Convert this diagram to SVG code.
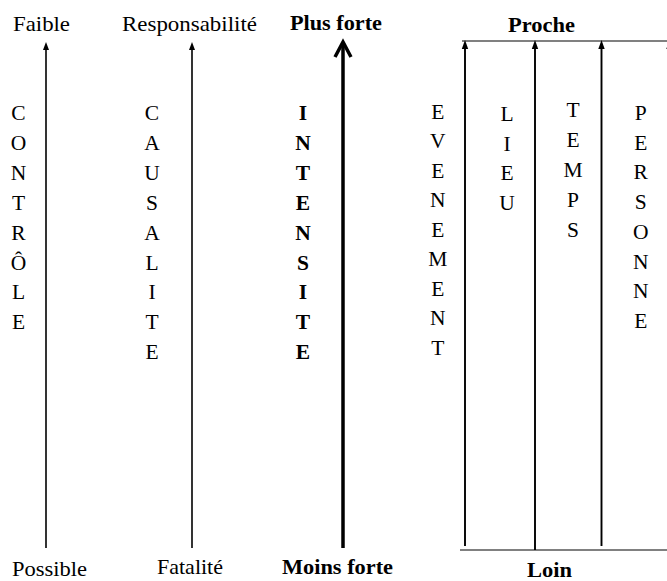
<svg xmlns="http://www.w3.org/2000/svg" width="667" height="581" viewBox="0 0 667 581">
<style>
text { font-family: "Liberation Serif", "Times New Roman", serif; font-size: 21.5px; fill: #000; }
.b { font-weight: bold; }
.col { text-anchor: middle; }
.ax { stroke: #000; stroke-width: 1.6; fill: none; }
.axr { stroke: #000; stroke-width: 1.9; fill: none; }
.thick { stroke: #000; stroke-width: 3.5; fill: none; }
.rule { stroke: #808080; stroke-width: 1.8; fill: none; }
.head { fill: #000; stroke: none; }
</style>
<rect width="667" height="581" fill="#fff"/>

<g id="connectors">
  <line class="ax" x1="46" y1="548" x2="46" y2="48"/>
  <polygon class="head" points="46,42 49,50 43,50"/>
  <line class="ax" x1="192" y1="548" x2="192" y2="48"/>
  <polygon class="head" points="192,42 195,50 189,50"/>
  <line class="thick" x1="343" y1="548" x2="343" y2="43"/>
  <polyline class="thick" points="335,57 343,42 351,57" stroke-linejoin="miter"/>
  <line class="rule" x1="462" y1="41" x2="667" y2="41"/>
  <line class="rule" x1="460" y1="550" x2="667" y2="550"/>
  <line class="axr" x1="465" y1="546" x2="465" y2="47"/>
  <polygon class="head" points="465,40 468.2,49 461.8,49"/>
  <line class="axr" x1="535" y1="550" x2="535" y2="47"/>
  <polygon class="head" points="535,40 538.2,49 531.8,49"/>
  <line class="axr" x1="601.5" y1="546" x2="601.5" y2="47"/>
  <polygon class="head" points="601.5,40 604.7,49 598.3,49"/>
  <polygon class="head" points="669.5,40 672.7,49 666.3,49"/>
</g>

<g id="controle">
  <text x="13" y="31" textLength="57" lengthAdjust="spacingAndGlyphs">Faible</text>
  <text x="12" y="576" textLength="75" lengthAdjust="spacingAndGlyphs">Possible</text>
  <text class="col">
    <tspan x="18.5" y="120">C</tspan><tspan x="18.5" y="149.9">O</tspan><tspan x="18.5" y="179.8">N</tspan><tspan x="18.5" y="209.7">T</tspan><tspan x="18.5" y="239.6">R</tspan><tspan x="18.5" y="269.5">Ô</tspan><tspan x="18.5" y="299.4">L</tspan><tspan x="18.5" y="329.3">E</tspan>
  </text>
</g>

<g id="causalite">
  <text x="122" y="31" textLength="135" lengthAdjust="spacingAndGlyphs">Responsabilité</text>
  <text x="157" y="574" textLength="66" lengthAdjust="spacingAndGlyphs">Fatalité</text>
  <text class="col">
    <tspan x="152" y="120">C</tspan><tspan x="152" y="149.9">A</tspan><tspan x="152" y="179.8">U</tspan><tspan x="152" y="209.7">S</tspan><tspan x="152" y="239.6">A</tspan><tspan x="152" y="269.5">L</tspan><tspan x="152" y="299.4">I</tspan><tspan x="152" y="329.3">T</tspan><tspan x="152" y="359.2">E</tspan>
  </text>
</g>

<g id="intensite">
  <text class="b" x="290" y="30" textLength="92" lengthAdjust="spacingAndGlyphs">Plus forte</text>
  <text class="b" x="282" y="574" textLength="111" lengthAdjust="spacingAndGlyphs">Moins forte</text>
  <text class="col b">
    <tspan x="303" y="120">I</tspan><tspan x="303" y="149.9">N</tspan><tspan x="303" y="179.8">T</tspan><tspan x="303" y="209.7">E</tspan><tspan x="303" y="239.6">N</tspan><tspan x="303" y="269.5">S</tspan><tspan x="303" y="299.4">I</tspan><tspan x="303" y="329.3">T</tspan><tspan x="303" y="359.2">E</tspan>
  </text>
</g>

<g id="proximite">
  <text class="b" x="508" y="32" textLength="67" lengthAdjust="spacingAndGlyphs">Proche</text>
  <text class="b" x="527" y="577" textLength="45" lengthAdjust="spacingAndGlyphs">Loin</text>
</g>

<g id="evenement">
  <text class="col">
    <tspan x="437.7" y="118.7">E</tspan><tspan x="437.7" y="148.2">V</tspan><tspan x="437.7" y="177.7">E</tspan><tspan x="437.7" y="207.2">N</tspan><tspan x="437.7" y="236.7">E</tspan><tspan x="437.7" y="266.2">M</tspan><tspan x="437.7" y="295.7">E</tspan><tspan x="437.7" y="325.2">N</tspan><tspan x="437.7" y="354.7">T</tspan>
  </text>
</g>

<g id="lieu">
  <text class="col">
    <tspan x="507" y="121">L</tspan><tspan x="507" y="150.6">I</tspan><tspan x="507" y="180.2">E</tspan><tspan x="507" y="209.8">U</tspan>
  </text>
</g>

<g id="temps">
  <text class="col">
    <tspan x="573" y="117">T</tspan><tspan x="573" y="147">E</tspan><tspan x="573" y="177">M</tspan><tspan x="573" y="207">P</tspan><tspan x="573" y="237">S</tspan>
  </text>
</g>

<g id="personne">
  <text class="col">
    <tspan x="640.7" y="120">P</tspan><tspan x="640.7" y="149.7">E</tspan><tspan x="640.7" y="179.4">R</tspan><tspan x="640.7" y="209.1">S</tspan><tspan x="640.7" y="238.8">O</tspan><tspan x="640.7" y="268.5">N</tspan><tspan x="640.7" y="298.2">N</tspan><tspan x="640.7" y="327.9">E</tspan>
  </text>
</g>
</svg>
